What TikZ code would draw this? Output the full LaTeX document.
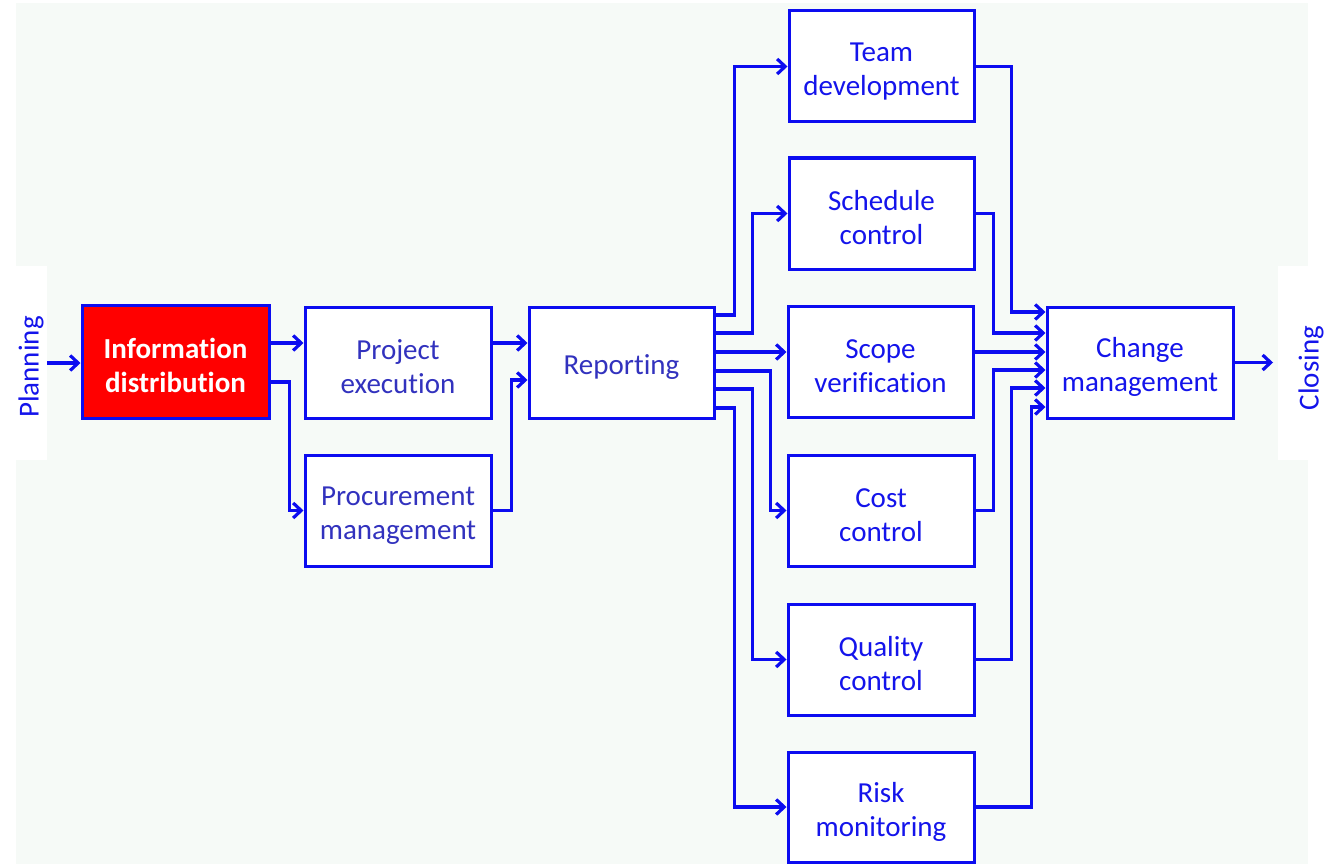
\documentclass[tikz,border=0pt]{standalone}
\usepackage{fontspec}
\setmainfont{Carlito}[Ligatures=NoCommon]
\usetikzlibrary{arrows.meta,calc}
\definecolor{bgc}{RGB}{246,250,247}
\definecolor{lineblue}{RGB}{12,12,240}
\definecolor{textdark}{RGB}{50,50,190}
\definecolor{textbright}{RGB}{20,20,235}
\definecolor{boxred}{RGB}{255,0,0}
\newcommand{\upstrut}{\rule{0pt}{29pt}}
\begin{document}
\begin{tikzpicture}[x=1pt,y=-1pt,
  box/.style={draw=lineblue, line width=3pt, fill=white, minimum width=186pt,
    minimum height=111pt, inner sep=0pt, align=center,
    font=\fontsize{29}{34}\selectfont},
  darkbox/.style={box, text=textdark},
  brightbox/.style={box, text=textbright},
  redbox/.style={box, fill=boxred, text=white, font=\fontsize{29}{34}\selectfont\bfseries},
  side/.style={fill=white, inner sep=0pt, minimum width=32pt, minimum height=194pt},
  sidetext/.style={rotate=90, text=textbright, inner sep=0pt, font=\fontsize{29}{34}\selectfont},
  conn/.style={draw=lineblue, line width=3.2pt, -{Straight Barb[length=8pt,width=15pt]}}
]
\useasboundingbox (0,0) rectangle (1325,864);
\fill[bgc] (16,3) rectangle (1308,864);

% side panels
\node[side] (plan) at (31,363) {};
\node[sidetext] (plantext) at (31,367) {Planning};
\node[side, minimum width=47pt] (clo) at (1301.5,363) {};
\node[sidetext] (clotext) at (1311,368) {Closing};

% boxes
\node[redbox, minimum width=187pt, minimum height=113pt] (info) at (175.5,361.5) {\upstrut Information\\distribution};
\node[darkbox] (pe) at (398,362.5) {\upstrut Project\\execution};
\node[darkbox] (proc) at (398,510.5) {\upstrut Procurement\\management};
\node[darkbox, minimum width=185pt] (rep) at (621.5,362.5) {\upstrut Reporting};

\node[brightbox, minimum width=185pt] (team) at (881.5,66.5) {\upstrut Team\\development};
\node[brightbox, minimum width=185pt] (sched) at (881.5,213.5) {\upstrut Schedule\\control};
\node[brightbox, minimum width=185pt] (scope) at (880.5,361.5) {\upstrut Scope\\verification};
\node[brightbox] (cost) at (881,510.5) {\upstrut Cost\\control};
\node[brightbox] (qual) at (881,659.5) {\upstrut Quality\\control};
\node[brightbox, minimum height=110pt] (risk) at (881,807) {\upstrut Risk\\monitoring};

\node[brightbox] (chg) at (1140,362.5) {\upstrut Change\\management};

% left connectors
\draw[conn] (plan.east) -- (plan.east -| info.west);
\draw[conn] ([yshift=18.5pt]info.east) coordinate (i1) -- (i1 -| pe.west);
\draw[conn] ([yshift=-20.5pt]info.east) -- ++(19,0) |- (proc.west);
\draw[conn] ([yshift=19.5pt]pe.east) coordinate (p1) -- (p1 -| rep.west);
\draw[conn] (proc.east) -- ++(19,0) |- ([yshift=-17.5pt]rep.west);

% reporting fan-out
\draw[conn] ([yshift=47.5pt]rep.east) -- ++(19,0) |- (team.west);
\draw[conn] ([yshift=29.5pt]rep.east) -- ++(37,0) |- (sched.west);
\draw[conn] ([yshift=10.5pt]rep.east) coordinate (r3) -- (r3 -| scope.west);
\draw[conn] ([yshift=-8.5pt]rep.east) -- ++(55,0) |- (cost.west);
\draw[conn] ([yshift=-26.5pt]rep.east) -- ++(37,0) |- (qual.west);
\draw[conn] ([yshift=-45.5pt]rep.east) -- ++(19,0) |- (risk.west);

% fan-in to change management
\draw[conn] (team.east) -- ++(36,0) |- ([yshift=50.5pt]chg.west);
\draw[conn] (sched.east) -- ++(18,0) |- ([yshift=29.5pt]chg.west);
\draw[conn] ([yshift=9.5pt]scope.east) coordinate (s3) -- (s3 -| chg.west);
\draw[conn] (cost.east) -- ++(18,0) |- ([yshift=-7.5pt]chg.west);
\draw[conn] (qual.east) -- ++(36,0) |- ([yshift=-25.5pt]chg.west);
\draw[conn] (risk.east) -- ++(56,0) |- ([yshift=-44.5pt]chg.west);

% to closing
\coordinate (cend) at (1273,362.5);
\draw[conn] (chg.east) -- (cend);
\end{tikzpicture}
\end{document}
